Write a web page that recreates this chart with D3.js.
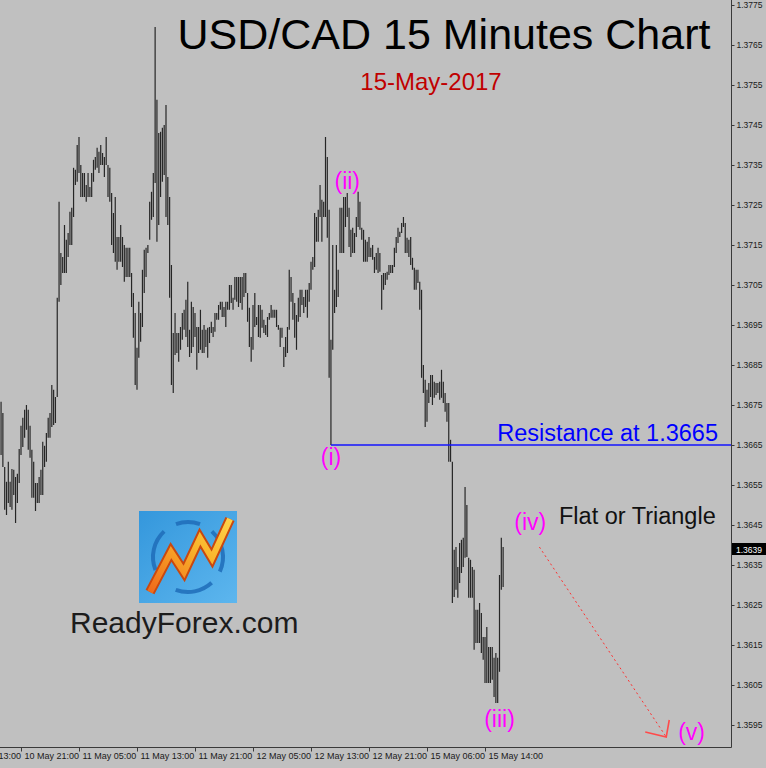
<!DOCTYPE html>
<html><head><meta charset="utf-8">
<script src="https://cdn.jsdelivr.net/npm/d3@7"></script>
<style>html,body{margin:0;padding:0;background:#c0c0c0;overflow:hidden} svg{display:block}</style>
</head><body>
<svg id="c" width="766" height="768"></svg>
<script>
// ---------- DATA ----------
const firstBar = -11; // bar index of first visible bar (index 0 = 10 May 21:00, 15-minute bars)
const highs = [
1.36758,1.36730,1.36595,1.36558,1.36608,1.36558,1.36590,1.36588,1.36570,1.36578,
1.36640,1.36698,1.36718,1.36738,1.36750,1.36738,1.36698,1.36638,1.36608,1.36555,
1.36555,1.36570,1.36588,1.36658,1.36648,1.36680,1.36718,1.36730,1.36800,1.36788,
1.36770,1.37018,1.37258,1.37130,1.37120,1.37200,1.37163,1.37180,1.37233,1.37243,
1.37343,1.37338,1.37400,1.37420,1.37350,1.37330,1.37330,1.37300,1.37330,1.37295,
1.37330,1.37363,1.37370,1.37393,1.37383,1.37400,1.37380,1.37370,1.37420,1.37350,
1.37343,1.37280,1.37230,1.37270,1.37170,1.37170,1.37200,1.37170,1.37150,1.37143,
1.37143,1.37143,1.37080,1.37030,1.36980,1.36893,1.37008,1.36980,1.37088,1.37138,
1.37143,1.37150,1.37258,1.37283,1.37330,1.37695,1.37513,1.37430,1.37433,1.37443,
1.37450,1.37500,1.37320,1.37270,1.37100,1.36930,1.36980,1.36930,1.36930,1.36945,
1.36980,1.36988,1.37013,1.37058,1.36938,1.37008,1.36995,1.36980,1.36945,1.36945,
1.36988,1.36938,1.36950,1.36938,1.36943,1.36945,1.36958,1.36945,1.36980,1.36980,
1.37000,1.37008,1.37008,1.36995,1.37008,1.37008,1.37050,1.37050,1.37018,1.37070,
1.37070,1.37070,1.37070,1.37070,1.37080,1.37080,1.37030,1.36993,1.36920,1.37000,
1.37030,1.36970,1.37000,1.37000,1.36988,1.36963,1.36950,1.36970,1.36980,1.37000,
1.36988,1.36988,1.36988,1.36950,1.36943,1.36943,1.36895,1.36920,1.36945,1.37088,
1.37070,1.37030,1.37005,1.36975,1.37018,1.37038,1.37038,1.37020,1.37038,1.37038,
1.37055,1.37108,1.37120,1.37230,1.37220,1.37238,1.37300,1.37263,1.37258,1.37420,
1.37370,1.37238,1.36913,1.37150,1.37038,1.37150,1.37088,1.37243,1.37243,1.37270,
1.37270,1.37280,1.37243,1.37188,1.37193,1.37180,1.37220,1.37283,1.37258,1.37193,
1.37188,1.37163,1.37158,1.37170,1.37143,1.37150,1.37120,1.37130,1.37143,1.37130,
1.37075,1.37080,1.37080,1.37083,1.37100,1.37100,1.37100,1.37143,1.37170,1.37193,
1.37183,1.37205,1.37220,1.37205,1.37168,1.37163,1.37170,1.37118,1.37093,1.37088,
1.37088,1.37058,1.37038,1.36850,1.36813,1.36788,1.36805,1.36825,1.36825,1.36808,
1.36805,1.36805,1.36808,1.36838,1.36808,1.36780,1.36755,1.36755,1.36663,1.36608,
1.36388,1.36395,1.36345,1.36405,1.36413,1.36418,1.36545,1.36500,1.36368,1.36363,
1.36345,1.36338,1.36238,1.36238,1.36255,1.36230,1.36170,1.36170,1.36195,1.36145,
1.36145,1.36145,1.36118,1.36130,1.36118,1.36325,1.36418,1.36395
];
const lows = [
1.36625,1.36595,1.36488,1.36475,1.36505,1.36495,1.36488,1.36525,1.36455,1.36505,
1.36555,1.36625,1.36645,1.36668,1.36688,1.36638,1.36618,1.36518,1.36518,1.36485,
1.36505,1.36505,1.36525,1.36525,1.36595,1.36608,1.36668,1.36668,1.36695,1.36700,
1.36705,1.36770,1.37008,1.37050,1.37080,1.37080,1.37080,1.37120,1.37150,1.37150,
1.37220,1.37300,1.37308,1.37330,1.37270,1.37270,1.37270,1.37258,1.37270,1.37270,
1.37270,1.37308,1.37338,1.37343,1.37330,1.37350,1.37350,1.37320,1.37350,1.37270,
1.37258,1.37150,1.37130,1.37108,1.37088,1.37108,1.37108,1.37095,1.37058,1.37070,
1.37070,1.37070,1.36995,1.36918,1.36800,1.36788,1.36868,1.36908,1.36945,1.37030,
1.37070,1.37130,1.37163,1.37213,1.37220,1.37305,1.37158,1.37200,1.37270,1.37308,
1.37325,1.37220,1.37200,1.37018,1.36800,1.36780,1.36875,1.36880,1.36858,1.36888,
1.36913,1.36938,1.36920,1.36895,1.36870,1.36880,1.36895,1.36920,1.36838,1.36880,
1.36888,1.36880,1.36880,1.36895,1.36868,1.36905,1.36930,1.36920,1.36933,1.36963,
1.36963,1.36988,1.36970,1.36970,1.36945,1.36988,1.36988,1.37005,1.36988,1.37013,
1.37008,1.36995,1.37005,1.36988,1.37020,1.37030,1.36958,1.36895,1.36858,1.36888,
1.36945,1.36950,1.36920,1.36918,1.36943,1.36930,1.36925,1.36920,1.36963,1.36968,
1.36968,1.36968,1.36945,1.36938,1.36895,1.36918,1.36845,1.36870,1.36880,1.36938,
1.37008,1.36963,1.36918,1.36888,1.36958,1.36970,1.37000,1.36980,1.36995,1.36968,
1.37008,1.37038,1.37088,1.37095,1.37158,1.37158,1.37220,1.37158,1.37220,1.37220,
1.37168,1.36818,1.36650,1.36888,1.36980,1.36995,1.37020,1.37130,1.37130,1.37130,
1.37195,1.37220,1.37145,1.37120,1.37130,1.37130,1.37170,1.37195,1.37188,1.37163,
1.37108,1.37108,1.37108,1.37120,1.37120,1.37113,1.37080,1.37088,1.37080,1.37083,
1.36988,1.37038,1.37050,1.37063,1.37075,1.37080,1.37080,1.37095,1.37130,1.37155,
1.37170,1.37180,1.37195,1.37130,1.37130,1.37120,1.37100,1.37088,1.37038,1.37038,
1.37055,1.36988,1.36818,1.36780,1.36695,1.36708,1.36755,1.36770,1.36750,1.36768,
1.36775,1.36780,1.36763,1.36768,1.36755,1.36733,1.36708,1.36608,1.36608,1.36255,
1.36270,1.36288,1.36268,1.36305,1.36330,1.36345,1.36368,1.36370,1.36268,1.36268,
1.36268,1.36138,1.36155,1.36155,1.36155,1.36130,1.36113,1.36055,1.36055,1.36055,
1.36055,1.36063,1.36020,1.36005,1.36005,1.36083,1.36288,1.36295
];
const timeTickIdx = [-32, 0, 32, 64, 96, 128, 160, 192, 224, 256];
const timeTickLabels = ["10 May 13:00","10 May 21:00","11 May 05:00","11 May 13:00","11 May 21:00",
  "12 May 05:00","12 May 13:00","12 May 21:00","15 May 06:00","15 May 14:00"];
const priceTicks = [1.3595,1.3605,1.3615,1.3625,1.3635,1.3645,1.3655,1.3665,1.3675,1.3685,
  1.3695,1.3705,1.3715,1.3725,1.3735,1.3745,1.3755,1.3765,1.3775];
const lastPrice = 1.3639;
const resistance = 1.3665;
const resistanceStartIdx = 171;
const waveText = ["(i)", "(ii)", "(iii)", "(iv)", "(v)"];
const waveIdx = [171, 180, 264, 281, 370];
const wavePrice = [1.3660, 1.3729, 1.35945, 1.36438, 1.35913];
const projFrom = {i: 286, p: 1.36395};
const projTo = {i: 356, p: 1.35920};

// ---------- LAYOUT ----------
const plotRight = 731, plotBottom = 747;
const svg = d3.select("#c");
const x = d3.scaleLinear().domain([0, 32]).range([21, 79]);
const y = d3.scaleLinear().domain([1.3595, 1.3775]).range([725, 5]);

svg.append("rect").attr("width", 766).attr("height", 768).attr("fill", "#c0c0c0");
svg.append("defs").append("clipPath").attr("id", "plot")
  .append("rect").attr("x", 0).attr("y", 0).attr("width", plotRight).attr("height", plotBottom);

// bars
const bars = highs.map((h, k) => ({i: firstBar + k, h, l: lows[k]}));
svg.append("g").attr("clip-path", "url(#plot)")
  .selectAll("line").data(bars).join("line")
  .attr("x1", d => x(d.i)).attr("x2", d => x(d.i))
  .attr("y1", d => y(d.h)).attr("y2", d => y(d.l))
  .attr("stroke", "#262626").attr("stroke-width", 1.2);

// frame / axes
const axisFont = "Liberation Sans, Arial, sans-serif";
svg.append("line").attr("x1", plotRight + 0.5).attr("x2", plotRight + 0.5).attr("y1", 0).attr("y2", plotBottom + 0.5)
  .attr("stroke", "#3a3a3a");
svg.append("line").attr("x1", 0).attr("x2", plotRight + 0.5).attr("y1", plotBottom + 0.5).attr("y2", plotBottom + 0.5)
  .attr("stroke", "#3a3a3a");

const ya = svg.append("g").attr("transform", `translate(${plotRight + 0.5},0)`)
  .call(d3.axisRight(y).tickValues(priceTicks).tickSize(3).tickFormat(d3.format(".4f")));
ya.select(".domain").remove();
ya.selectAll("line").attr("stroke", "#3a3a3a");
ya.selectAll("text").attr("x", 5).attr("fill", "#1a1a1a").style("font", `8.5px ${axisFont}`);

const xa = svg.append("g").attr("transform", `translate(0,${plotBottom + 0.5})`)
  .call(d3.axisBottom(x).tickValues(timeTickIdx).tickSize(4).tickFormat((d, k) => timeTickLabels[k]));
xa.select(".domain").remove();
xa.selectAll("line").attr("stroke", "#3a3a3a");
xa.selectAll("text").attr("text-anchor", "start").attr("x", 3).attr("y", 5)
  .attr("fill", "#1a1a1a").style("font", `9px ${axisFont}`);

// last price box
const ly = y(lastPrice);
svg.append("rect").attr("x", plotRight + 1).attr("y", ly - 6).attr("width", 34).attr("height", 12).attr("fill", "#000");
svg.append("text").attr("x", plotRight + 5).attr("y", ly + 3.5).attr("fill", "#fff")
  .style("font", `8.5px ${axisFont}`).text(d3.format(".4f")(lastPrice));

// resistance
svg.append("line").attr("x1", x(resistanceStartIdx)).attr("x2", plotRight)
  .attr("y1", y(resistance)).attr("y2", y(resistance))
  .attr("stroke", "#1414ff").attr("stroke-width", 1.6);
const annFont = "Liberation Sans, Arial, sans-serif";
svg.append("text").attr("x", 718).attr("y", y(resistance) - 4).attr("text-anchor", "end")
  .attr("fill", "#0000ff").style("font", `23.5px ${annFont}`).text("Resistance at " + d3.format(".4f")(resistance));

// wave labels
svg.append("g").selectAll("text").data(waveText).join("text")
  .attr("x", (d, k) => x(waveIdx[k])).attr("y", (d, k) => y(wavePrice[k]))
  .attr("text-anchor", "middle").attr("fill", "#ff00ff")
  .style("font", `23px ${annFont}`).text(d => d);

svg.append("text").attr("x", 559).attr("y", 524).attr("fill", "#111")
  .style("font", `23.5px ${annFont}`).text("Flat or Triangle");

// projection arrow
const ax1 = x(projFrom.i), ay1 = y(projFrom.p), ax2 = x(projTo.i), ay2 = y(projTo.p);
svg.append("line").attr("x1", ax1).attr("y1", ay1).attr("x2", ax2).attr("y2", ay2)
  .attr("stroke", "#ff3030").attr("stroke-width", 1).attr("stroke-dasharray", "2,3");
svg.append("path").attr("d", `M${ax2 - 21},${ay2 - 5}L${ax2},${ay2}L${ax2 + 3},${ay2 - 17}`)
  .attr("fill", "none").attr("stroke", "#ff4a4a").attr("stroke-width", 1.6);

// titles
svg.append("text").attr("x", 444).attr("y", 49).attr("text-anchor", "middle").attr("fill", "#000")
  .style("font", `43px Liberation Sans, Arial, sans-serif`).text("USD/CAD 15 Minutes Chart");
svg.append("text").attr("x", 431).attr("y", 90).attr("text-anchor", "middle").attr("fill", "#c00000")
  .style("font", `24px Liberation Sans, Arial, sans-serif`).text("15-May-2017");

// logo
const defs = svg.select("defs");
const lg = defs.append("linearGradient").attr("id", "lg").attr("x1", 0).attr("y1", 0).attr("x2", 1).attr("y2", 1);
lg.append("stop").attr("offset", 0).attr("stop-color", "#3497dc");
lg.append("stop").attr("offset", 1).attr("stop-color", "#5db6ee");
const og = defs.append("linearGradient").attr("id", "og").attr("x1", 0).attr("y1", 1).attr("x2", 1).attr("y2", 0);
og.append("stop").attr("offset", 0).attr("stop-color", "#f06a1a");
og.append("stop").attr("offset", 0.6).attr("stop-color", "#f9b52c");
og.append("stop").attr("offset", 1).attr("stop-color", "#ffd24a");
const logo = svg.append("g");
logo.append("rect").attr("x", 139).attr("y", 511).attr("width", 98).attr("height", 92).attr("fill", "url(#lg)");
const arc = d3.arc().innerRadius(33).outerRadius(37);
[[-1.95, -0.75], [-0.35, 0.35], [0.75, 2.0], [2.4, 3.5]].forEach(a => {
  logo.append("path").attr("transform", "translate(188,557)")
    .attr("d", arc({startAngle: a[0], endAngle: a[1]})).attr("fill", "#1f6cb8").attr("opacity", 0.85);
});
logo.append("path").attr("d", "M150,592L171,552L184,572L200,538L212,558L230,519")
  .attr("fill", "none").attr("stroke", "#c9480f").attr("stroke-width", 10).attr("stroke-linejoin", "miter");
logo.append("path").attr("d", "M150,592L171,552L184,572L200,538L212,558L230,519")
  .attr("fill", "none").attr("stroke", "url(#og)").attr("stroke-width", 6).attr("stroke-linejoin", "miter");
svg.append("text").attr("x", 70).attr("y", 633).attr("fill", "#1c1c1c")
  .style("font", `30px Liberation Sans, Arial, sans-serif`).text("ReadyForex.com");
</script>
</body></html>
